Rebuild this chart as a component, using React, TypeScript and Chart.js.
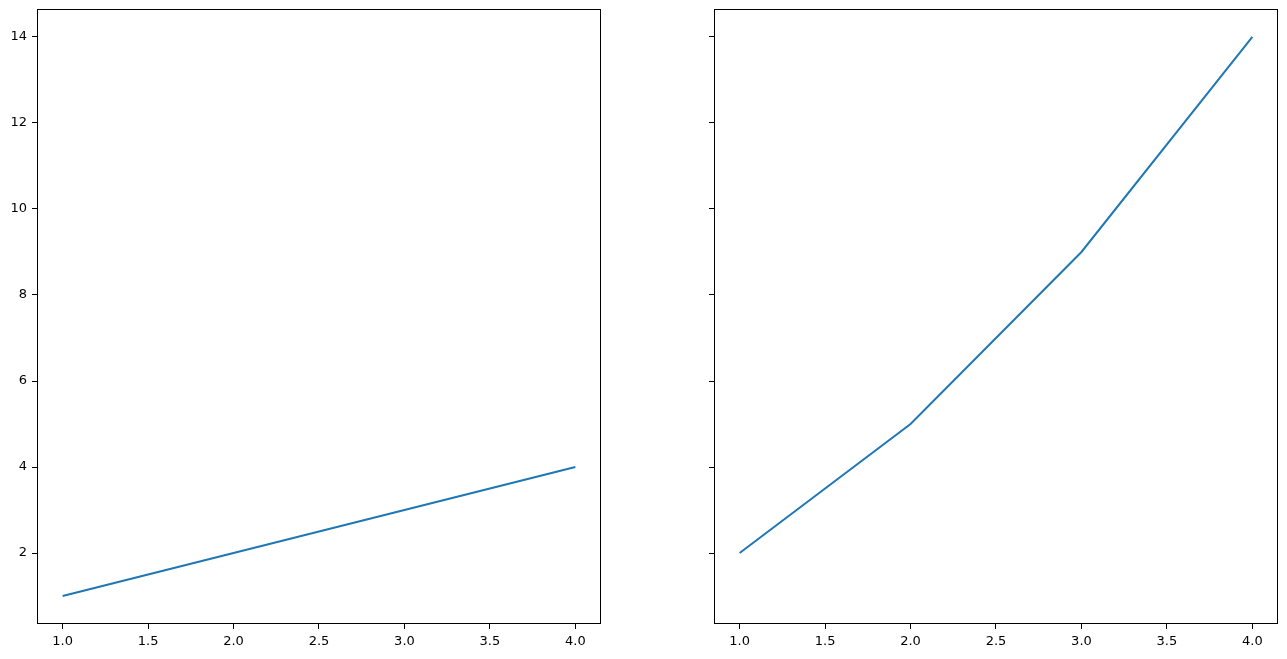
import React, { useEffect, useRef } from "react";
import { Chart, registerables } from "chart.js";

Chart.register(...registerables);

const xValues = [1, 2, 3, 4];
const leftValues = [1, 2, 3, 4];
const rightValues = [2, 5, 9, 14];
const xTicks = [1.0, 1.5, 2.0, 2.5, 3.0, 3.5, 4.0];
const yTicks = [2, 4, 6, 8, 10, 12, 14];

const LINE_COLOR = "#1f77b4";
const FONT = { family: "'DejaVu Sans', sans-serif", size: 13 };

const framePlugin = {
  id: "frame",
  afterDraw(chart: any) {
    const { ctx, chartArea } = chart;
    ctx.save();
    ctx.strokeStyle = "#000";
    ctx.lineWidth = 1;
    ctx.strokeRect(
      Math.round(chartArea.left) + 0.5,
      Math.round(chartArea.top) + 0.5,
      Math.round(chartArea.right - chartArea.left) - 1,
      Math.round(chartArea.bottom - chartArea.top) - 1
    );
    ctx.restore();
  },
};

function makeConfig(values: number[], showYLabels: boolean, yAxisWidth: number, rightPad: number) {
  return {
    type: "scatter" as const,
    data: {
      datasets: [
        {
          data: xValues.map((x, i) => ({ x, y: values[i] })),
          showLine: true,
          borderColor: LINE_COLOR,
          backgroundColor: LINE_COLOR,
          borderWidth: 2,
          pointRadius: 0,
          tension: 0,
        },
      ],
    },
    options: {
      animation: false,
      responsive: false,
      maintainAspectRatio: false,
      layout: { padding: { left: 0, top: 9, right: rightPad, bottom: 0 } },
      plugins: { legend: { display: false }, tooltip: { enabled: false } },
      scales: {
        x: {
          type: "linear",
          min: 0.85,
          max: 4.15,
          afterBuildTicks: (scale: any) => {
            scale.ticks = xTicks.map((v) => ({ value: v }));
          },
          afterFit: (scale: any) => {
            scale.height = 35;
            scale.paddingLeft = 0;
            scale.paddingRight = 0;
          },
          grid: {
            drawOnChartArea: false,
            drawTicks: true,
            tickLength: 5,
            tickColor: "#000",
            tickWidth: 1,
          },
          border: { display: false },
          ticks: {
            color: "#000",
            font: FONT,
            padding: 5,
            maxRotation: 0,
            autoSkip: false,
            callback: (v: any) => Number(v).toFixed(1),
          },
        },
        y: {
          type: "linear",
          min: 0.35,
          max: 14.65,
          afterBuildTicks: (scale: any) => {
            scale.ticks = yTicks.map((v) => ({ value: v }));
          },
          afterFit: (scale: any) => {
            scale.width = yAxisWidth;
            scale.paddingTop = 0;
            scale.paddingBottom = 0;
          },
          grid: {
            drawOnChartArea: false,
            drawTicks: true,
            tickLength: 5,
            tickColor: "#000",
            tickWidth: 1,
          },
          border: { display: false },
          ticks: {
            color: "#000",
            font: FONT,
            padding: 5,
            autoSkip: false,
            callback: (v: any) => (showYLabels ? String(v) : ""),
          },
        },
      },
    },
    plugins: [framePlugin],
  };
}

function ChartBox(props: { left: number; width: number; values: number[]; showYLabels: boolean; yAxisWidth: number; rightPad: number }) {
  const ref = useRef<HTMLCanvasElement | null>(null);
  useEffect(() => {
    if (!ref.current) return;
    const chart = new Chart(ref.current, makeConfig(props.values, props.showYLabels, props.yAxisWidth, props.rightPad) as any);
    return () => chart.destroy();
  }, []);
  return (
    <div style={{ position: "absolute", left: props.left, top: 0, width: props.width, height: 659 }}>
      <canvas ref={ref} width={props.width} height={659} style={{ width: props.width, height: 659, display: "block" }} />
    </div>
  );
}

export default function App() {
  return (
    <div style={{ position: "fixed", left: 0, top: 0, width: 1287, height: 659, background: "#fff" }}>
      <ChartBox left={0} width={640} values={leftValues} showYLabels={true} yAxisWidth={37} rightPad={39} />
      <ChartBox left={640} width={647} values={rightValues} showYLabels={false} yAxisWidth={74} rightPad={9} />
    </div>
  );
}
